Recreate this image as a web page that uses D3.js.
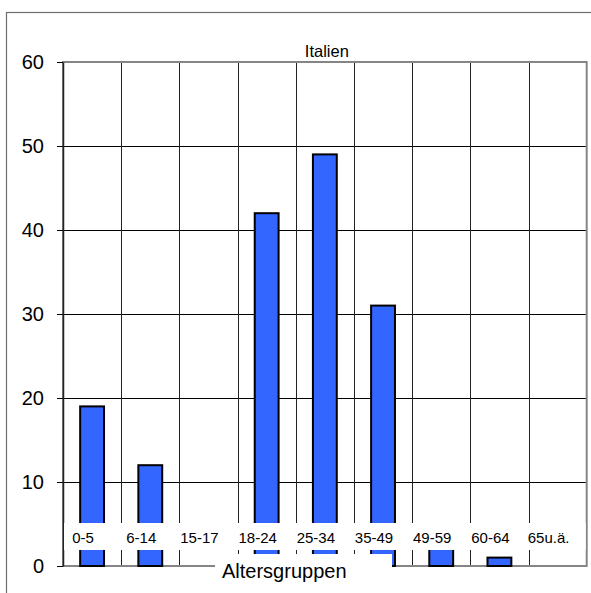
<!DOCTYPE html>
<html>
<head>
<meta charset="utf-8">
<script src="https://cdn.jsdelivr.net/npm/d3@7/dist/d3.min.js"></script>
<style>
  html, body { margin: 0; padding: 0; background: #fff; }
  svg { display: block; }
  text { font-family: "Liberation Sans", Arial, sans-serif; fill: #000; }
</style>
</head>
<body>
<svg id="chart" width="591" height="593"></svg>
<script>
const categories = ["0-5", "6-14", "15-17", "18-24", "25-34", "35-49", "49-59", "60-64", "65u.ä."];
const values = [19, 12, 0, 42, 49, 31, 3, 1, 0];
const yTicks = [0, 10, 20, 30, 40, 50, 60];
const chartTitle = "Italien";
const xTitle = "Altersgruppen";

const W = 591, H = 593;
const margin = { left: 63, top: 62, right: 4.3, bottom: 27 };
const plotW = W - margin.left - margin.right;
const plotH = H - margin.top - margin.bottom;

const svg = d3.select("#chart");

// outer frame (extends past the window on right and bottom)
svg.append("rect")
  .attr("x", 6.5).attr("y", 12.5)
  .attr("width", 640).attr("height", 640)
  .attr("fill", "none").attr("stroke", "#6e6e6e").attr("stroke-width", 1.2);

const g = svg.append("g").attr("transform", `translate(${margin.left},${margin.top})`);

const x = d3.scaleBand().domain(categories).range([0, plotW]).padding(0);
const y = d3.scaleLinear().domain([0, 60]).range([plotH, 0]);

// horizontal gridlines
g.append("g")
  .call(d3.axisLeft(y).tickValues(yTicks.filter(t => t > 0 && t < 60)).tickSize(-plotW).tickFormat(""))
  .call(s => s.select(".domain").remove())
  .call(s => s.selectAll("line").attr("stroke", "#000").attr("stroke-width", 1));

// vertical gridlines at category boundaries
g.append("g").selectAll("line")
  .data(categories.slice(1))
  .join("line")
  .attr("x1", d => Math.round(x(d)) + 0.5).attr("x2", d => Math.round(x(d)) + 0.5)
  .attr("y1", 0).attr("y2", plotH)
  .attr("stroke", "#222").attr("stroke-width", 1);

// plot border
g.append("rect")
  .attr("x", 0).attr("y", 0).attr("width", plotW).attr("height", plotH)
  .attr("fill", "none").attr("stroke", "#858585").attr("stroke-width", 2);

// y axis with ticks and labels
g.append("g")
  .call(d3.axisLeft(y).tickValues(yTicks).tickSizeInner(6).tickSizeOuter(0).tickPadding(13))
  .call(s => s.select(".domain").attr("stroke", "#222").attr("stroke-width", 1.5))
  .call(s => s.selectAll(".tick line").attr("stroke", "#000").attr("stroke-width", 1))
  .call(s => s.selectAll(".tick text")
    .attr("font-size", 20).attr("font-family", "'Liberation Sans', Arial, sans-serif").attr("fill", "#000"));

// bars
const barW = x.bandwidth() * 0.41;
g.append("g").selectAll("rect")
  .data(categories.map((c, i) => ({ c, v: values[i] })).filter(d => d.v > 0))
  .join("rect")
  .attr("x", d => x(d.c) + x.bandwidth() / 2 - barW / 2)
  .attr("y", d => y(d.v))
  .attr("width", barW)
  .attr("height", d => y(0) - y(d.v))
  .attr("fill", "#3366FF")
  .attr("stroke", "#000").attr("stroke-width", 2);

// category label band (white background)
const bandTop = y(60) + plotH - 43;
g.append("rect")
  .attr("x", 1).attr("y", bandTop)
  .attr("width", plotW - 2).attr("height", 27)
  .attr("fill", "#fff");

g.append("g").selectAll("text")
  .data(categories)
  .join("text")
  .attr("x", d => x(d) + x.bandwidth() / 2 - 9)
  .attr("y", bandTop + 14)
  .attr("text-anchor", "middle")
  .attr("dominant-baseline", "central")
  .attr("font-size", 15)
  .text(d => d);

// chart title
g.append("text")
  .attr("x", plotW / 2 + 2).attr("y", -5)
  .attr("text-anchor", "middle")
  .attr("font-size", 16.5)
  .text(chartTitle);

// x axis title with white box
g.append("rect")
  .attr("x", 215 - margin.left).attr("y", plotH - 12)
  .attr("width", 177).attr("height", 60)
  .attr("fill", "#fff");
g.append("text")
  .attr("x", 222 - margin.left).attr("y", plotH + 12)
  .attr("font-size", 20)
  .text(xTitle);
</script>
</body>
</html>
